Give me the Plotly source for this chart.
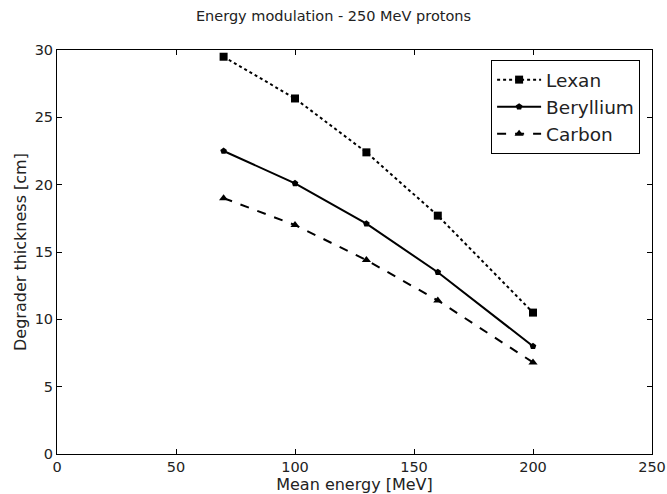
import plotly.graph_objects as go

energy = [70, 100, 130, 160, 200]
lexan = [29.5, 26.4, 22.4, 17.7, 10.5]
beryllium = [22.5, 20.1, 17.1, 13.5, 8.0]
carbon = [19.0, 17.0, 14.4, 11.4, 6.8]

x_ticks = [0, 50, 100, 150, 200, 250]
y_ticks = [0, 5, 10, 15, 20, 25, 30]

fig = go.Figure()
fig.add_trace(go.Scatter(x=energy, y=lexan, name="Lexan", mode="lines+markers",
                         line=dict(color="black", width=2, dash="dot"),
                         marker=dict(symbol="square", size=8, color="black")))
fig.add_trace(go.Scatter(x=energy, y=beryllium, name="Beryllium", mode="lines+markers",
                         line=dict(color="black", width=2, dash="solid"),
                         marker=dict(symbol="pentagon", size=7, color="black")))
fig.add_trace(go.Scatter(x=energy, y=carbon, name="Carbon", mode="lines+markers",
                         line=dict(color="black", width=2, dash="dash"),
                         marker=dict(symbol="triangle-up", size=8, color="black")))

axis_common = dict(showgrid=False, zeroline=False, showline=True, linecolor="black",
                   linewidth=1, mirror="ticks", ticks="inside", ticklen=5,
                   tickcolor="black", tickfont=dict(size=14.5, color="#222"),
                   automargin=False)

fig.update_layout(
    width=667, height=494,
    margin=dict(l=57, r=15, t=50, b=40),
    paper_bgcolor="white", plot_bgcolor="white",
    font=dict(family="DejaVu Sans", color="#222"),
    title=dict(text="Energy modulation - 250 MeV protons", x=0.5, xanchor="center",
               y=1 - 16 / 494, yanchor="middle", font=dict(size=14.5, color="#222")),
    xaxis=dict(range=[0, 250], tickvals=x_ticks,
               title=dict(text="Mean energy [MeV]", font=dict(size=16), standoff=3),
               **axis_common),
    yaxis=dict(range=[0, 30], tickvals=y_ticks,
               title=dict(text="Degrader thickness [cm]", font=dict(size=16), standoff=4),
               **axis_common),
    legend=dict(x=0.98, y=0.975, xanchor="right", yanchor="top",
                bordercolor="black", borderwidth=1, bgcolor="white",
                font=dict(size=18.5, color="#222"), itemwidth=44, tracegroupgap=0),
    showlegend=True,
)

fig.write_html("out.html")
